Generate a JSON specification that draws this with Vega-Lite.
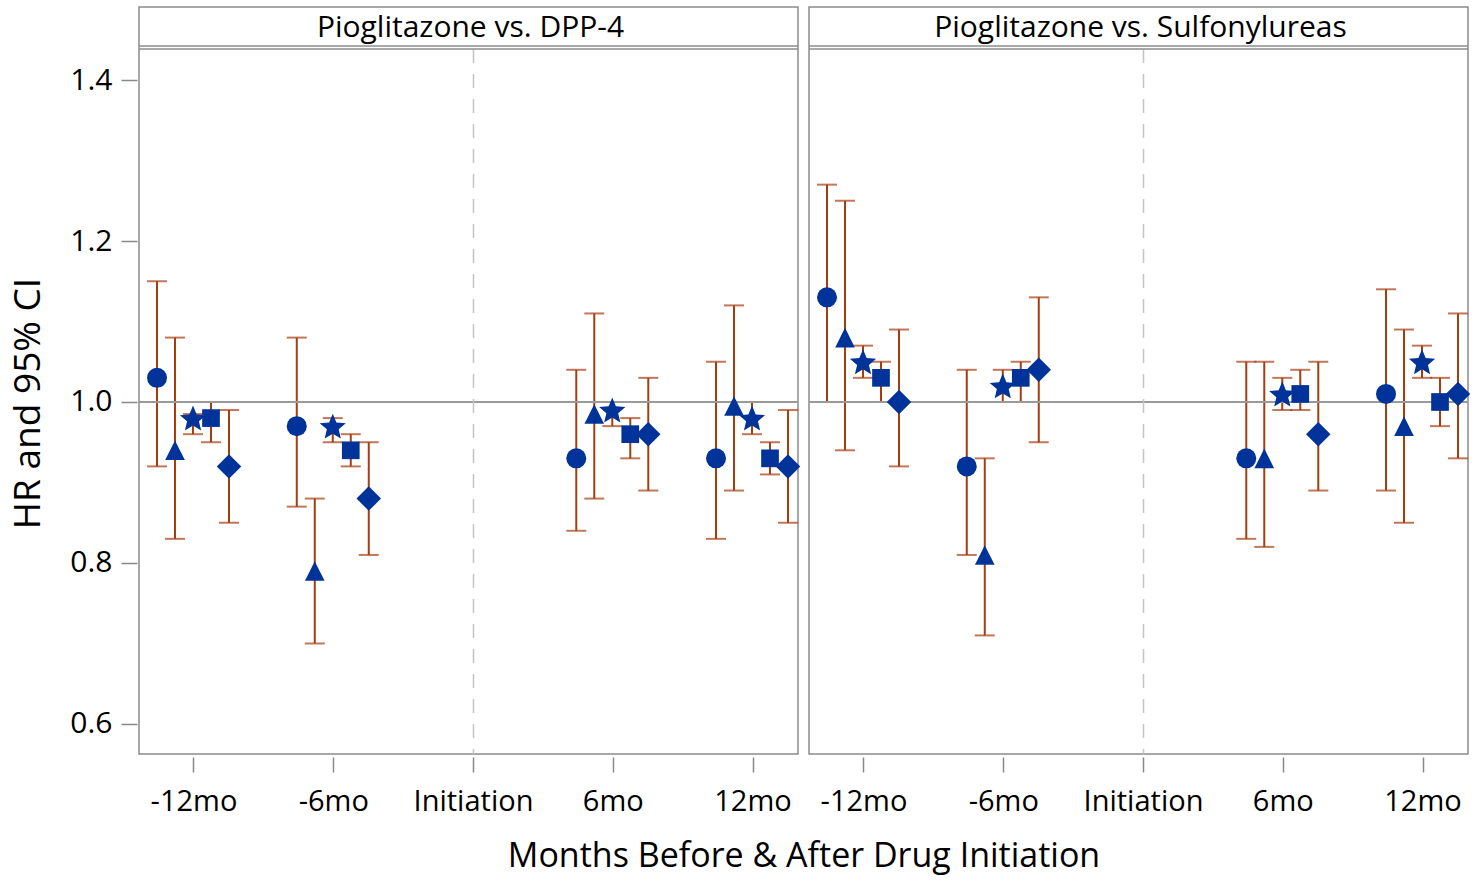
{
  "$schema": "https://vega.github.io/schema/vega-lite/v6.json",
  "padding": {"left": 9, "top": 6, "right": 0, "bottom": 2},
  "background": "white",
  "config": {
    "font": "Open Sans",
    "view": {"stroke": "#8c8c8c", "strokeWidth": 1.5}
  },
  "data": {
    "values": [
      {"panel": "Pioglitazone vs. DPP-4", "time": "-12mo", "model": "M1", "hr": 1.03, "lo": 0.92, "hi": 1.15},
      {"panel": "Pioglitazone vs. DPP-4", "time": "-12mo", "model": "M2", "hr": 0.94, "lo": 0.83, "hi": 1.08},
      {"panel": "Pioglitazone vs. DPP-4", "time": "-12mo", "model": "M3", "hr": 0.98, "lo": 0.96, "hi": 0.985},
      {"panel": "Pioglitazone vs. DPP-4", "time": "-12mo", "model": "M4", "hr": 0.98, "lo": 0.95, "hi": 1.0},
      {"panel": "Pioglitazone vs. DPP-4", "time": "-12mo", "model": "M5", "hr": 0.92, "lo": 0.85, "hi": 0.99},
      {"panel": "Pioglitazone vs. DPP-4", "time": "-6mo", "model": "M1", "hr": 0.97, "lo": 0.87, "hi": 1.08},
      {"panel": "Pioglitazone vs. DPP-4", "time": "-6mo", "model": "M2", "hr": 0.79, "lo": 0.70, "hi": 0.88},
      {"panel": "Pioglitazone vs. DPP-4", "time": "-6mo", "model": "M3", "hr": 0.97, "lo": 0.95, "hi": 0.98},
      {"panel": "Pioglitazone vs. DPP-4", "time": "-6mo", "model": "M4", "hr": 0.94, "lo": 0.92, "hi": 0.96},
      {"panel": "Pioglitazone vs. DPP-4", "time": "-6mo", "model": "M5", "hr": 0.88, "lo": 0.81, "hi": 0.95},
      {"panel": "Pioglitazone vs. DPP-4", "time": "6mo", "model": "M1", "hr": 0.93, "lo": 0.84, "hi": 1.04},
      {"panel": "Pioglitazone vs. DPP-4", "time": "6mo", "model": "M2", "hr": 0.985, "lo": 0.88, "hi": 1.11},
      {"panel": "Pioglitazone vs. DPP-4", "time": "6mo", "model": "M3", "hr": 0.99, "lo": 0.97, "hi": 1.0},
      {"panel": "Pioglitazone vs. DPP-4", "time": "6mo", "model": "M4", "hr": 0.96, "lo": 0.93, "hi": 0.98},
      {"panel": "Pioglitazone vs. DPP-4", "time": "6mo", "model": "M5", "hr": 0.96, "lo": 0.89, "hi": 1.03},
      {"panel": "Pioglitazone vs. DPP-4", "time": "12mo", "model": "M1", "hr": 0.93, "lo": 0.83, "hi": 1.05},
      {"panel": "Pioglitazone vs. DPP-4", "time": "12mo", "model": "M2", "hr": 0.995, "lo": 0.89, "hi": 1.12},
      {"panel": "Pioglitazone vs. DPP-4", "time": "12mo", "model": "M3", "hr": 0.98, "lo": 0.96, "hi": 1.0},
      {"panel": "Pioglitazone vs. DPP-4", "time": "12mo", "model": "M4", "hr": 0.93, "lo": 0.91, "hi": 0.95},
      {"panel": "Pioglitazone vs. DPP-4", "time": "12mo", "model": "M5", "hr": 0.92, "lo": 0.85, "hi": 0.99},
      {"panel": "Pioglitazone vs. Sulfonylureas", "time": "-12mo", "model": "M1", "hr": 1.13, "lo": 1.0, "hi": 1.27},
      {"panel": "Pioglitazone vs. Sulfonylureas", "time": "-12mo", "model": "M2", "hr": 1.08, "lo": 0.94, "hi": 1.25},
      {"panel": "Pioglitazone vs. Sulfonylureas", "time": "-12mo", "model": "M3", "hr": 1.05, "lo": 1.03, "hi": 1.07},
      {"panel": "Pioglitazone vs. Sulfonylureas", "time": "-12mo", "model": "M4", "hr": 1.03, "lo": 1.0, "hi": 1.05},
      {"panel": "Pioglitazone vs. Sulfonylureas", "time": "-12mo", "model": "M5", "hr": 1.0, "lo": 0.92, "hi": 1.09},
      {"panel": "Pioglitazone vs. Sulfonylureas", "time": "-6mo", "model": "M1", "hr": 0.92, "lo": 0.81, "hi": 1.04},
      {"panel": "Pioglitazone vs. Sulfonylureas", "time": "-6mo", "model": "M2", "hr": 0.81, "lo": 0.71, "hi": 0.93},
      {"panel": "Pioglitazone vs. Sulfonylureas", "time": "-6mo", "model": "M3", "hr": 1.02, "lo": 1.0, "hi": 1.04},
      {"panel": "Pioglitazone vs. Sulfonylureas", "time": "-6mo", "model": "M4", "hr": 1.03, "lo": 1.0, "hi": 1.05},
      {"panel": "Pioglitazone vs. Sulfonylureas", "time": "-6mo", "model": "M5", "hr": 1.04, "lo": 0.95, "hi": 1.13},
      {"panel": "Pioglitazone vs. Sulfonylureas", "time": "6mo", "model": "M1", "hr": 0.93, "lo": 0.83, "hi": 1.05},
      {"panel": "Pioglitazone vs. Sulfonylureas", "time": "6mo", "model": "M2", "hr": 0.93, "lo": 0.82, "hi": 1.05},
      {"panel": "Pioglitazone vs. Sulfonylureas", "time": "6mo", "model": "M3", "hr": 1.01, "lo": 0.99, "hi": 1.03},
      {"panel": "Pioglitazone vs. Sulfonylureas", "time": "6mo", "model": "M4", "hr": 1.01, "lo": 0.99, "hi": 1.04},
      {"panel": "Pioglitazone vs. Sulfonylureas", "time": "6mo", "model": "M5", "hr": 0.96, "lo": 0.89, "hi": 1.05},
      {"panel": "Pioglitazone vs. Sulfonylureas", "time": "12mo", "model": "M1", "hr": 1.01, "lo": 0.89, "hi": 1.14},
      {"panel": "Pioglitazone vs. Sulfonylureas", "time": "12mo", "model": "M2", "hr": 0.97, "lo": 0.85, "hi": 1.09},
      {"panel": "Pioglitazone vs. Sulfonylureas", "time": "12mo", "model": "M3", "hr": 1.05, "lo": 1.03, "hi": 1.07},
      {"panel": "Pioglitazone vs. Sulfonylureas", "time": "12mo", "model": "M4", "hr": 1.0, "lo": 0.97, "hi": 1.03},
      {"panel": "Pioglitazone vs. Sulfonylureas", "time": "12mo", "model": "M5", "hr": 1.01, "lo": 0.93, "hi": 1.11}
    ]
  },
  "bounds": "flush",
  "spacing": 11,
  "facet": {
    "column": {
      "field": "panel",
      "type": "nominal",
      "header": {
        "title": "Months Before & After Drug Initiation",
        "titleOrient": "bottom",
        "labels": false,
        "titleFontSize": 34,
        "titleFontWeight": "normal",
        "titleColor": "black",
        "titlePadding": 14
      }
    }
  },
  "spec": {
    "width": 659,
    "height": 747,
    "layer": [
      {
        "mark": {"type": "rule", "color": "#A63D11", "strokeWidth": 2},
        "encoding": {
          "x": {
            "field": "time", "type": "ordinal",
            "scale": {"type": "band", "domain": ["-12mo", "-6mo", "Initiation", "6mo", "12mo"], "paddingInner": 0.3562, "paddingOuter": 0.0358, "align": 1},
            "axis": {"title": null, "domain": false, "offset": 3, "tickSize": 15, "tickColor": "#888888", "tickWidth": 1.5, "labelFontSize": 29, "labelPadding": 15, "labelColor": "black", "labelAngle": 0}
          },
          "xOffset": {"field": "model", "type": "nominal", "scale": {"type": "point", "domain": ["M1", "M2", "M3", "M4", "M5"], "range": [8, 80], "padding": 0}},
          "y": {
            "field": "lo", "type": "quantitative",
            "scale": {"domain": [0.5627, 1.4907], "nice": false, "zero": false},
            "axis": {"title": "HR and 95% CI", "values": [0.6, 0.8, 1.0, 1.2, 1.4], "format": ".1f", "grid": false, "domain": false, "offset": 2, "tickSize": 16, "tickColor": "#888888", "tickWidth": 1.5, "labelFontSize": 30, "labelPadding": 9, "labelColor": "black", "titleFontSize": 37, "titleFontWeight": "normal", "titleColor": "black", "titlePadding": 22, "titleY": 396}
          },
          "y2": {"field": "hi"}
        }
      },
      {
        "mark": {"type": "tick", "color": "#A63D11", "thickness": 2, "size": 20, "orient": "horizontal"},
        "encoding": {
          "x": {"field": "time", "type": "ordinal"},
          "xOffset": {"field": "model", "type": "nominal"},
          "y": {"field": "lo", "type": "quantitative"}
        }
      },
      {
        "mark": {"type": "tick", "color": "#A63D11", "thickness": 2, "size": 20, "orient": "horizontal"},
        "encoding": {
          "x": {"field": "time", "type": "ordinal"},
          "xOffset": {"field": "model", "type": "nominal"},
          "y": {"field": "hi", "type": "quantitative"}
        }
      },
      {
        "transform": [{"aggregate": [{"op": "count", "as": "n"}], "groupby": ["panel"]}],
        "mark": {"type": "rule", "color": "#9a9a9a", "strokeWidth": 2},
        "encoding": {"y": {"datum": 1}}
      },
      {
        "transform": [{"aggregate": [{"op": "count", "as": "n"}], "groupby": ["panel"]}],
        "mark": {"type": "rule", "color": "#c4c4c4", "strokeWidth": 1.5, "strokeDash": [14, 11]},
        "encoding": {"x": {"datum": "Initiation", "type": "ordinal"}, "y": {"datum": 1.4385}, "y2": {"datum": 0.5627}}
      },
      {
        "mark": {"type": "point", "filled": true, "opacity": 1, "color": "#003399"},
        "encoding": {
          "x": {"field": "time", "type": "ordinal"},
          "xOffset": {"field": "model", "type": "nominal"},
          "y": {"field": "hr", "type": "quantitative"},
          "shape": {"field": "model", "type": "nominal", "scale": {"domain": ["M1", "M2", "M3", "M4", "M5"], "range": ["circle", "M0,-0.98 L0.98,0.98 L-0.98,0.98 Z", "M0,-0.905 L0.265,-0.269 L0.951,-0.214 L0.428,0.234 L0.588,0.904 L0,0.545 L-0.588,0.904 L-0.428,0.234 L-0.951,-0.214 L-0.265,-0.269 Z", "square", "diamond"]}, "legend": null},
          "size": {"field": "model", "type": "nominal", "scale": {"type": "ordinal", "domain": ["M1", "M2", "M3", "M4", "M5"], "range": [400, 400, 760, 313, 600]}, "legend": null}
        }
      },
      {
        "transform": [{"aggregate": [{"op": "count", "as": "n"}], "groupby": ["panel"]}],
        "mark": {"type": "rule", "color": "#8c8c8c", "strokeWidth": 1.5},
        "encoding": {"y": {"datum": 1.4422}}
      },
      {
        "transform": [{"aggregate": [{"op": "count", "as": "n"}], "groupby": ["panel"]}],
        "mark": {"type": "rule", "color": "#8c8c8c", "strokeWidth": 1.5},
        "encoding": {"y": {"datum": 1.4385}}
      },
      {
        "transform": [{"aggregate": [{"op": "count", "as": "n"}], "groupby": ["panel"]}],
        "mark": {"type": "text", "fontSize": 30, "color": "black", "baseline": "middle", "dx": -3},
        "encoding": {"x": {"datum": "Initiation", "type": "ordinal"}, "y": {"datum": 1.4646}, "text": {"field": "panel"}}
      }
    ]
  }
}
